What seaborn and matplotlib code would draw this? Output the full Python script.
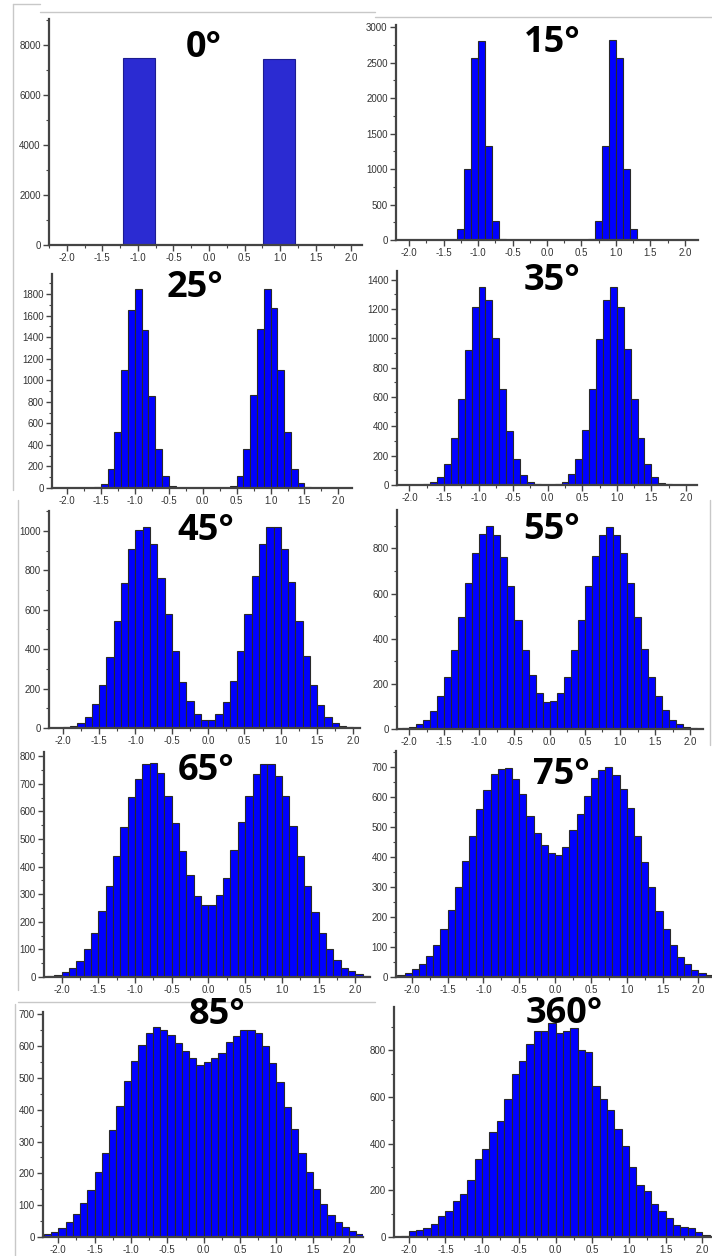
import numpy as np
import pandas as pd
import matplotlib
matplotlib.use("Agg")
import matplotlib.pyplot as plt
from matplotlib.ticker import MultipleLocator
from matplotlib.lines import Line2D
import seaborn as sns

# --- estilo general ---
sns.set_style("ticks")
plt.rcParams['font.family'] = ['Liberation Sans', 'DejaVu Sans']

# ===============================================================
# DATOS (conteos por bin)
# ===============================================================
titles = ["0°", "15°", "25°", "35°", "45°", "55°", "65°", "75°", "85°", "360°"]

# 0°: dos bins anchos
edges_0 = [-1.215, -0.765, 0.765, 1.215]
counts_0 = [7490, 0, 7450]

# resto: bins de ancho 0.1, primer borde izquierdo en start_*
bin_width = 0.1

start_15 = -1.4
counts_15 = [5, 160, 1000, 2560, 2800, 1330, 270, 20,
             0, 0, 0, 0, 0, 0, 0, 0, 0, 0, 0, 0,
             20, 270, 1330, 2815, 2560, 1000, 160, 5]

start_25 = -1.6
counts_25 = [5, 40, 175, 520, 1090, 1655, 1843, 1462, 853, 360, 112, 22, 3,
             0, 0, 0, 0, 0, 0,
             3, 22, 110, 365, 860, 1475, 1843, 1670, 1090, 515, 180, 45, 5]

start_35 = -1.8
counts_35 = [5, 18, 55, 145, 318, 590, 920, 1215, 1350, 1260, 1000, 655, 368, 178, 70, 22, 5,
             2, 2,
             5, 20, 72, 180, 372, 658, 998, 1262, 1350, 1215, 925, 590, 318, 145, 55, 17, 5]

start_45 = -2.0
counts_45 = [3, 10, 25, 55, 120, 218, 360, 545, 738, 908, 1003, 1022, 936, 763, 578, 390, 235, 135, 72, 42,
             42, 72, 132, 237, 390, 578, 770, 936, 1022, 1020, 908, 740, 545, 365, 218, 118, 58, 25, 10, 3]

start_55 = -2.1
counts_55 = [3, 8, 20, 42, 80, 145, 232, 350, 495, 645, 778, 862, 900, 858, 762, 635, 485, 350, 240, 160, 120,
             122, 160, 232, 350, 482, 635, 765, 860, 895, 860, 780, 645, 495, 355, 232, 145, 82, 42, 20, 10, 3]

start_65 = -2.2
counts_65 = [3, 8, 17, 34, 59, 100, 159, 238, 328, 439, 543, 651, 719, 770, 776, 739, 655, 557, 458, 370, 294, 261,
             262, 298, 358, 460, 560, 655, 735, 772, 772, 728, 655, 548, 437, 330, 235, 158, 100, 60, 33, 20, 10, 5]

start_75 = -2.2
counts_75 = [5, 13, 26, 42, 69, 107, 159, 224, 299, 386, 469, 560, 623, 677, 693, 697, 660, 610, 536, 480, 441, 413,
             408, 432, 489, 543, 602, 662, 690, 700, 674, 626, 563, 470, 384, 300, 219, 159, 106, 68, 42, 23, 13, 5]

start_85 = -2.2
counts_85 = [8, 16, 28, 47, 71, 106, 148, 205, 265, 336, 413, 489, 552, 602, 640, 659, 652, 636, 610, 584, 561, 540,
             551, 561, 579, 612, 633, 650, 651, 640, 600, 548, 488, 408, 340, 265, 205, 152, 105, 70, 47, 30, 18, 8]

start_360 = -2.1
counts_360 = [5, 26, 29, 37, 54, 89, 110, 154, 183, 243, 336, 379, 451, 496, 593, 700, 756, 826, 884, 884, 918,
              874, 884, 896, 800, 793, 647, 593, 546, 461, 390, 300, 224, 199, 141, 110, 83, 51, 43, 37, 21, 9]

starts = [None, start_15, start_25, start_35, start_45, start_55, start_65, start_75, start_85, start_360]
counts_all = [counts_0, counts_15, counts_25, counts_35, counts_45,
              counts_55, counts_65, counts_75, counts_85, counts_360]

# ===============================================================
# LAYOUT (pixeles de la imagen 712x1256)
# ===============================================================
W, H = 712, 1256
# (izq, arriba, der, abajo) del area de ejes
boxes = [(49, 19, 362, 245), (396, 25, 698, 240),
         (52, 274, 352, 488), (397, 271, 697, 485),
         (49, 511, 360, 728), (397, 510, 703, 729),
         (44, 752, 370, 977), (396, 751, 712, 977),
         (43, 1012, 363, 1237), (394, 1007, 712, 1237)]
xlims = [(-2.25, 2.15), (-2.19, 2.19), (-2.22, 2.2), (-2.18, 2.16), (-2.19, 2.09),
         (-2.17, 2.18), (-2.24, 2.2), (-2.22, 2.19), (-2.21, 2.19), (-2.2, 2.13)]
ylims = [9040, 3030, 1985, 1460, 1101, 970, 815, 753, 707, 986]
ysteps = [2000, 500, 200, 200, 200, 200, 100, 100, 100, 200]
# posicion del titulo (centro x, linea base y)
title_pos = [(204, 57), (552, 52), (195, 297), (552, 290), (206, 540),
             (552, 539), (206, 780), (561, 784), (217, 1024), (564, 1023)]

fig = plt.figure(figsize=(W / 100, H / 100), dpi=100)
fig.patch.set_facecolor("white")

# marcos grises de las capturas
frame_kw = dict(color="#c8c8c8", lw=1.0, transform=fig.transFigure)
frame_lines = [((13, 40), (4, 4)), ((40, 375), (12, 12)), ((13, 13), (4, 490)),
               ((375, 712), (17, 17)), ((18, 18), (500, 990)),
               ((18, 375), (1002, 1002)), ((15, 15), (1004, 1256)),
               ((710, 710), (500, 745))]
for (xs, ys) in frame_lines:
    fig.add_artist(Line2D([x / W for x in xs], [1 - y / H for y in ys], **frame_kw))

for i, ax_box in enumerate(boxes):
    l, t, r, b = ax_box
    ax = fig.add_axes([l / W, 1 - b / H, (r - l) / W, (b - t) / H])
    ax.set_facecolor("white")

    if i == 0:
        edges = list(edges_0)
        bar_color, bar_edge = "#2b2bd2", "#1c1c90"
    else:
        edges = [round(starts[i] + bin_width * k, 2) for k in range(len(counts_all[i]) + 1)]
        bar_color, bar_edge = "#0000ff", "#2a2a2a"
    hist_df = pd.DataFrame({
        "x": [(edges[k] + edges[k + 1]) / 2 for k in range(len(edges) - 1)],
        "n": counts_all[i],
    })

    sns.histplot(data=hist_df, x="x", weights="n", bins=edges, ax=ax,
                 color=bar_color, edgecolor=bar_edge, linewidth=0.8, alpha=1)

    ax.set_xlim(*xlims[i])
    ax.set_ylim(0, ylims[i])
    ax.set_xlabel("")
    ax.set_ylabel("")
    ax.xaxis.set_major_locator(MultipleLocator(0.5))
    ax.xaxis.set_minor_locator(MultipleLocator(0.25))
    ax.yaxis.set_major_locator(MultipleLocator(ysteps[i]))
    ax.yaxis.set_minor_locator(MultipleLocator(ysteps[i] / 2))
    ax.xaxis.set_major_formatter(matplotlib.ticker.FormatStrFormatter("%.1f"))

    sns.despine(ax=ax)
    for side in ["left", "bottom"]:
        ax.spines[side].set_linewidth(1.6)
        ax.spines[side].set_color("#444444")
    ax.tick_params(which="major", direction="out", length=4, width=1,
                   color="#444444", labelsize=7, labelcolor="#333333", pad=2)
    ax.tick_params(which="minor", direction="out", length=2.5, width=0.8, color="#444444")

    tx, ty = title_pos[i]
    fig.text(tx / W, 1 - ty / H, titles[i], ha="center", va="baseline",
             fontsize=26, fontweight="bold", family=["Open Sans", "DejaVu Sans"],
             color="black", zorder=10)

fig.savefig("out.png", dpi=100)
